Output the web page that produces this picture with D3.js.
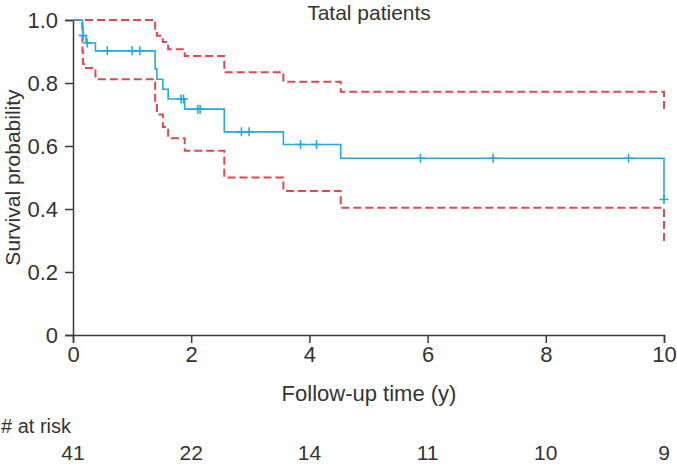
<!DOCTYPE html>
<html>
<head>
<meta charset="utf-8">
<script src="https://cdn.jsdelivr.net/npm/d3@7"></script>
<style>
  html, body { margin: 0; padding: 0; background: #fff; }
  svg text { font-family: "Liberation Sans", Arial, Helvetica, sans-serif; fill: #333; }
</style>
</head>
<body>
<svg id="chart" width="677" height="466"></svg>
<script>
// ---- data ----
const stepTimes = [0, 0.16, 0.17, 0.22, 0.38, 1.39, 1.42, 1.52, 1.61, 1.89, 2.56, 3.56, 4.53, 10];
const survival  = [1.0, 0.976, 0.951, 0.927, 0.902, 0.845, 0.812, 0.780, 0.749, 0.717, 0.645, 0.605, 0.561, 0.43];
const lowerCI   = [1.0, 0.90, 0.86, 0.848, 0.812, 0.74, 0.70, 0.66, 0.625, 0.585, 0.50, 0.457, 0.404, 0.296];
const upperCI   = [1.0, 1.0, 1.0, 1.0, 1.0, 0.963, 0.95, 0.93, 0.907, 0.886, 0.834, 0.804, 0.772, 0.709];
const censorTimes = [0.17, 0.24, 0.58, 1.00, 1.13, 1.83, 1.87, 2.11, 2.15, 2.85, 2.98, 3.85, 4.12, 5.88, 7.11, 9.40, 10.0];
const xTicks = [0, 2, 4, 6, 8, 10];
const yTicks = [0, 0.2, 0.4, 0.6, 0.8, 1.0];
const atRiskTimes = [0, 2, 4, 6, 8, 10];
const atRisk = [41, 22, 14, 11, 10, 9];
const title = "Tatal patients";
const xTitle = "Follow-up time (y)";
const yTitle = "Survival probability";

// ---- drawing ----
const svg = d3.select("#chart");
const x = d3.scaleLinear().domain([0, 10]).range([73, 664]);
const y = d3.scaleLinear().domain([0, 1]).range([335, 20]);
const axisColor = "#3a3a3a";
const fs = 22;

function survAt(t) {
  let v = survival[0];
  for (let i = 0; i < stepTimes.length; i++) if (stepTimes[i] <= t) v = survival[i];
  return v;
}

// axes
const yAxis = svg.append("g").attr("transform", `translate(${x(0)},0)`)
  .call(d3.axisLeft(y).tickValues(yTicks).tickSizeOuter(0).tickSize(8)
    .tickFormat(d => d === 0 ? "0" : d3.format(".1f")(d)));
const xAxis = svg.append("g").attr("transform", `translate(0,${y(0)})`)
  .call(d3.axisBottom(x).tickValues(xTicks).tickSizeOuter(0).tickSize(8).tickFormat(d3.format("d")));
[yAxis, xAxis].forEach(g => {
  g.selectAll("path, line").attr("stroke", axisColor).attr("stroke-width", 1.5);
  g.selectAll("text").attr("font-size", fs).attr("fill", "#333")
    .style("font-family", '"Liberation Sans", Arial, sans-serif');
});
yAxis.selectAll("text").attr("x", -15).attr("dy", "0.36em");
xAxis.selectAll("text").attr("y", 11).attr("dy", "0.71em");

// CI lines
const stepLine = (vals) => d3.line().curve(d3.curveStepAfter)
  .x((d, i) => x(stepTimes[i])).y((d) => y(d))(vals);

[upperCI, lowerCI].forEach(vals => {
  svg.append("path").attr("d", stepLine(vals)).attr("fill", "none")
    .attr("stroke", "#e0474f").attr("stroke-width", 2).attr("stroke-dasharray", "8,4");
});

// KM curve
const blue = "#23a9e1";
svg.append("path").attr("d", stepLine(survival)).attr("fill", "none")
  .attr("stroke", blue).attr("stroke-width", 1.6);

// censor marks
const cs = 4.5;
censorTimes.forEach(t => {
  const cx = x(t), cy = y(survAt(t));
  svg.append("path").attr("d", `M${cx},${cy - cs}V${cy + cs}M${cx - cs},${cy}H${cx + cs}`)
    .attr("stroke", blue).attr("stroke-width", 1.6).attr("fill", "none");
});

// titles
svg.append("text").attr("x", 369).attr("y", 20).attr("text-anchor", "middle")
  .attr("font-size", 21).text(title);
svg.append("text").attr("x", 369).attr("y", 401).attr("text-anchor", "middle")
  .attr("font-size", fs).text(xTitle);
svg.append("text").attr("transform", `translate(20,${(y(0) + y(1)) / 2}) rotate(-90)`)
  .attr("text-anchor", "middle").attr("font-size", 21).text(yTitle);

// risk table
svg.append("text").attr("x", 1).attr("y", 433).attr("font-size", 20).text("# at risk");
svg.selectAll("text.risk").data(atRisk).enter().append("text").attr("class", "risk")
  .attr("x", (d, i) => x(atRiskTimes[i])).attr("y", 460).attr("text-anchor", "middle")
  .attr("font-size", 21).text(d => d);
</script>
</body>
</html>
